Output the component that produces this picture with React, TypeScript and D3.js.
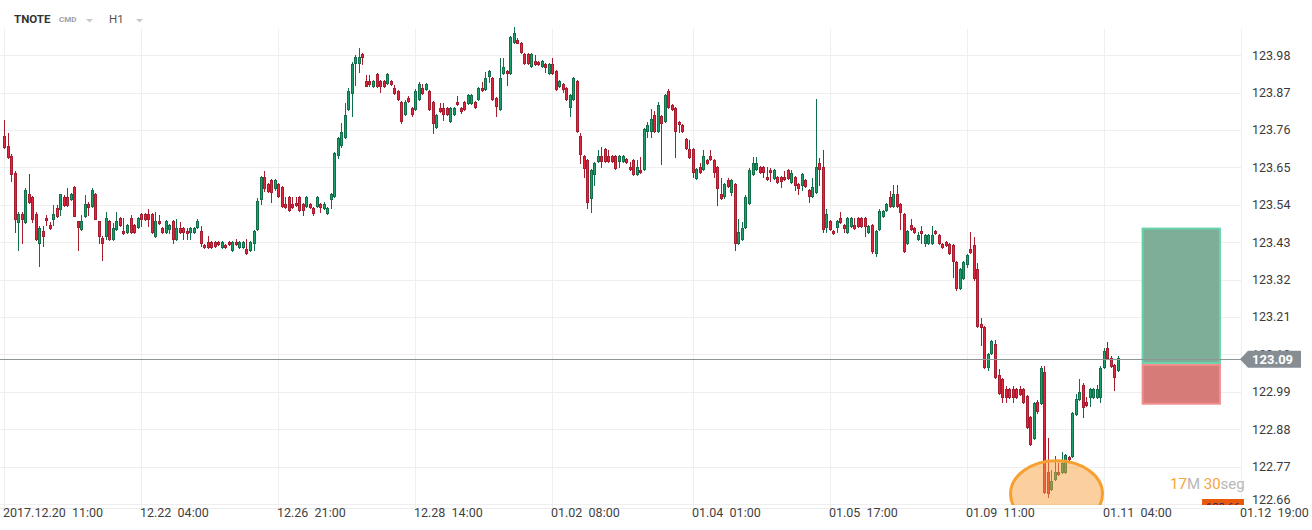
import React from "react";
import * as d3 from "d3";

// ---------- data ----------
const opens = [
123.742,123.713,123.683,123.633,123.489,123.513,123.489,123.572,123.563,123.513,
123.427,123.463,123.501,123.480,123.499,123.530,123.528,123.563,123.563,123.558,
123.592,123.492,123.469,123.507,123.542,123.536,123.572,123.492,123.442,123.448,
123.492,123.440,123.469,123.501,123.463,123.460,123.501,123.480,123.475,123.513,
123.513,123.513,123.513,123.448,123.492,123.472,123.460,123.469,123.492,123.440,
123.472,123.472,123.463,123.460,123.460,123.475,123.463,123.421,123.430,123.430,
123.430,123.430,123.415,123.421,123.430,123.407,123.430,123.415,123.415,123.410,
123.407,123.427,123.469,123.558,123.621,123.601,123.613,123.589,123.601,123.592,
123.542,123.563,123.542,123.545,123.563,123.542,123.536,123.542,123.530,123.536,
123.542,123.530,123.516,123.558,123.566,123.686,123.716,123.739,123.822,123.869,
123.957,123.957,123.983,123.904,123.904,123.889,123.925,123.904,123.904,123.898,
123.904,123.883,123.874,123.842,123.807,123.854,123.825,123.822,123.851,123.883,
123.880,123.874,123.842,123.769,123.825,123.825,123.825,123.786,123.807,123.842,
123.825,123.842,123.839,123.839,123.842,123.851,123.883,123.880,123.919,123.913,
123.854,123.822,123.927,123.933,123.927,124.019,124.025,124.016,123.983,123.983,
123.948,123.963,123.960,123.948,123.954,123.927,123.954,123.933,123.889,123.895,
123.883,123.828,123.851,123.904,123.742,123.683,123.672,123.560,123.630,123.669,
123.683,123.704,123.683,123.683,123.683,123.669,123.669,123.675,123.651,123.672,
123.630,123.642,123.645,123.757,123.757,123.804,123.757,123.801,123.786,123.874,
123.833,123.825,123.783,123.775,123.733,123.704,123.704,123.618,123.651,123.645,
123.672,123.683,123.672,123.651,123.572,123.566,123.613,123.578,123.601,123.427,
123.440,123.475,123.545,123.630,123.645,123.651,123.651,123.621,123.642,123.618,
123.621,123.621,123.621,123.642,123.607,123.621,123.601,123.598,123.613,123.584,
123.566,123.578,123.663,123.651,123.475,123.492,123.463,123.475,123.501,123.480,
123.460,123.478,123.480,123.501,123.501,123.501,123.460,123.480,123.398,123.469,
123.507,123.525,123.563,123.536,123.572,123.542,123.513,123.427,123.480,123.472,
123.440,123.463,123.427,123.427,123.427,123.463,123.451,123.424,123.430,123.424,
123.421,123.372,123.295,123.325,123.366,123.410,123.421,123.351,123.190,123.181,
123.063,123.104,123.130,123.039,123.028,122.998,122.998,122.998,122.998,122.998,
122.998,122.978,122.916,122.854,122.960,122.957,123.048,122.754,122.704,122.734,
122.754,122.754,122.754,122.798,122.801,122.925,122.969,123.010,122.960,122.975,
122.975,122.975,122.975,123.063,123.119,123.090,123.069,123.054];

const highs = [
123.789,123.751,123.689,123.639,123.519,123.519,123.589,123.630,123.566,123.519,
123.478,123.478,123.510,123.489,123.539,123.539,123.572,123.569,123.589,123.575,
123.595,123.492,123.510,123.569,123.548,123.589,123.575,123.492,123.448,123.519,
123.495,123.486,123.519,123.504,123.501,123.483,123.510,123.483,123.504,123.516,
123.516,123.528,123.516,123.519,123.510,123.475,123.495,123.483,123.495,123.499,
123.489,123.475,123.472,123.475,123.475,123.499,123.478,123.424,123.448,123.433,
123.433,123.433,123.433,123.424,123.433,123.433,123.439,123.433,123.433,123.439,
123.433,123.466,123.560,123.624,123.639,123.604,123.616,123.616,123.604,123.595,
123.563,123.566,123.563,123.563,123.566,123.545,123.566,123.545,123.533,123.566,
123.545,123.548,123.533,123.575,123.695,123.739,123.780,123.839,123.883,123.960,
123.980,124.001,123.986,123.922,123.922,123.907,123.927,123.907,123.907,123.927,
123.907,123.892,123.878,123.845,123.848,123.860,123.828,123.880,123.901,123.895,
123.898,123.878,123.845,123.807,123.839,123.839,123.828,123.828,123.828,123.860,
123.828,123.845,123.866,123.866,123.845,123.886,123.901,123.930,123.936,123.916,
123.857,123.971,123.971,123.936,124.036,124.063,124.030,124.019,123.986,123.986,
123.986,123.980,123.963,123.966,123.957,123.957,123.971,123.936,123.907,123.898,
123.886,123.866,123.916,123.907,123.751,123.686,123.675,123.645,123.666,123.701,
123.710,123.707,123.701,123.686,123.686,123.686,123.686,123.677,123.666,123.675,
123.672,123.680,123.766,123.783,123.822,123.816,123.842,123.804,123.866,123.880,
123.836,123.828,123.786,123.777,123.736,123.731,123.707,123.648,123.663,123.701,
123.675,123.701,123.675,123.654,123.618,123.604,123.618,123.616,123.604,123.499,
123.489,123.569,123.648,123.680,123.680,123.654,123.654,123.651,123.648,123.645,
123.624,123.624,123.639,123.645,123.642,123.624,123.604,123.633,123.616,123.586,
123.618,123.851,123.677,123.701,123.528,123.495,123.466,123.495,123.519,123.483,
123.504,123.504,123.501,123.504,123.504,123.504,123.480,123.483,123.466,123.528,
123.525,123.545,123.581,123.598,123.598,123.545,123.516,123.466,123.499,123.475,
123.460,123.478,123.454,123.454,123.478,123.466,123.454,123.427,123.433,123.427,
123.424,123.375,123.354,123.375,123.395,123.460,123.445,123.369,123.207,123.184,
123.104,123.142,123.142,123.057,123.031,123.007,123.001,123.007,123.001,123.007,
123.001,122.981,122.919,122.960,122.966,123.066,123.066,122.854,122.760,122.801,
122.780,122.813,122.807,122.801,122.931,122.984,123.028,123.016,122.975,123.001,
123.001,123.010,123.066,123.119,123.136,123.095,123.072,123.095];

const lows = [
123.707,123.677,123.610,123.460,123.407,123.427,123.486,123.545,123.489,123.436,
123.360,123.418,123.480,123.469,123.480,123.504,123.510,123.536,123.536,123.554,
123.507,123.407,123.466,123.504,123.510,123.533,123.499,123.427,123.378,123.440,
123.436,123.436,123.466,123.478,123.454,123.457,123.457,123.457,123.472,123.478,
123.495,123.478,123.457,123.445,123.483,123.457,123.457,123.457,123.427,123.436,
123.457,123.440,123.440,123.440,123.457,123.472,123.418,123.412,123.412,123.412,
123.415,123.421,123.412,123.412,123.421,123.404,123.421,123.412,123.412,123.395,
123.404,123.407,123.466,123.542,123.581,123.578,123.548,123.584,123.563,123.533,
123.530,123.522,123.530,123.536,123.522,123.510,123.533,123.530,123.510,123.533,
123.519,123.528,123.513,123.530,123.563,123.677,123.710,123.736,123.819,123.801,
123.892,123.930,123.954,123.889,123.889,123.886,123.886,123.872,123.886,123.895,
123.892,123.866,123.848,123.780,123.804,123.842,123.801,123.819,123.848,123.866,
123.878,123.819,123.751,123.766,123.813,123.789,123.804,123.783,123.804,123.833,
123.810,123.819,123.836,123.836,123.825,123.848,123.874,123.878,123.901,123.848,
123.801,123.819,123.925,123.892,123.925,124.016,124.016,123.986,123.954,123.954,
123.945,123.951,123.951,123.945,123.930,123.925,123.925,123.878,123.886,123.872,
123.848,123.801,123.848,123.754,123.663,123.621,123.530,123.519,123.598,123.666,
123.651,123.666,123.666,123.666,123.645,123.651,123.666,123.663,123.642,123.627,
123.627,123.633,123.642,123.739,123.739,123.754,123.754,123.660,123.783,123.825,
123.819,123.680,123.754,123.754,123.704,123.677,123.621,123.616,123.633,123.642,
123.660,123.672,123.621,123.539,123.558,123.560,123.592,123.569,123.407,123.424,
123.436,123.472,123.542,123.627,123.642,123.633,123.621,123.613,123.610,123.616,
123.604,123.592,123.613,123.616,123.604,123.584,123.572,123.584,123.592,123.548,
123.563,123.575,123.598,123.460,123.460,123.466,123.454,123.460,123.486,123.460,
123.457,123.475,123.469,123.475,123.475,123.448,123.457,123.398,123.390,123.466,
123.504,123.522,123.533,123.533,123.533,123.469,123.401,123.424,123.466,123.457,
123.436,123.427,123.418,123.424,123.424,123.454,123.424,123.412,123.418,123.395,
123.328,123.289,123.292,123.322,123.357,123.398,123.319,123.181,123.128,123.060,
123.054,123.101,123.031,122.984,122.960,122.960,122.972,122.960,122.972,122.981,
122.957,122.884,122.834,122.851,122.928,122.954,122.692,122.681,122.701,122.731,
122.745,122.751,122.751,122.789,122.798,122.922,122.966,122.916,122.948,122.948,
122.972,122.972,122.960,123.060,123.087,123.063,122.995,123.051];

const closes = [
123.710,123.680,123.630,123.499,123.513,123.499,123.584,123.548,123.499,123.440,
123.472,123.448,123.495,123.472,123.513,123.507,123.572,123.539,123.539,123.572,
123.507,123.475,123.492,123.542,123.533,123.584,123.499,123.448,123.427,123.501,
123.440,123.472,123.492,123.480,123.457,123.480,123.460,123.460,123.501,123.499,
123.499,123.499,123.460,123.492,123.486,123.460,123.492,123.480,123.440,123.472,
123.460,123.460,123.457,123.472,123.472,123.492,123.427,123.415,123.415,123.415,
123.418,123.424,123.430,123.415,123.424,123.430,123.424,123.430,123.430,123.398,
123.430,123.463,123.551,123.621,123.589,123.581,123.578,123.613,123.566,123.536,
123.533,123.525,123.533,123.539,123.525,123.525,123.563,123.533,123.516,123.563,
123.533,123.542,123.530,123.572,123.692,123.736,123.754,123.804,123.874,123.954,
123.974,123.974,123.974,123.889,123.895,123.904,123.889,123.889,123.889,123.925,
123.895,123.869,123.851,123.786,123.842,123.845,123.807,123.874,123.895,123.869,
123.895,123.822,123.780,123.804,123.816,123.807,123.807,123.825,123.825,123.836,
123.816,123.822,123.863,123.863,123.828,123.883,123.878,123.913,123.933,123.851,
123.830,123.913,123.945,123.927,124.033,124.045,124.016,123.989,123.957,123.957,
123.983,123.954,123.954,123.963,123.945,123.954,123.927,123.880,123.904,123.880,
123.851,123.863,123.913,123.757,123.689,123.648,123.548,123.642,123.663,123.683,
123.669,123.669,123.669,123.669,123.648,123.683,123.683,123.666,123.645,123.630,
123.651,123.636,123.763,123.775,123.792,123.757,123.833,123.780,123.863,123.828,
123.822,123.757,123.777,123.757,123.707,123.680,123.636,123.645,123.636,123.683,
123.663,123.675,123.636,123.589,123.560,123.601,123.595,123.613,123.427,123.460,
123.472,123.563,123.642,123.663,123.663,123.636,123.636,123.616,123.636,123.642,
123.607,123.610,123.616,123.618,123.633,123.598,123.589,123.630,123.595,123.566,
123.592,123.651,123.645,123.469,123.513,123.469,123.457,123.492,123.489,123.472,
123.501,123.501,123.472,123.478,123.478,123.478,123.478,123.404,123.463,123.522,
123.522,123.542,123.536,123.572,123.536,123.519,123.404,123.463,123.469,123.460,
123.451,123.457,123.451,123.451,123.451,123.457,123.427,123.415,123.421,123.398,
123.375,123.295,123.351,123.372,123.392,123.401,123.325,123.184,123.181,123.063,
123.101,123.139,123.034,122.987,122.975,122.975,122.975,122.975,122.975,122.984,
122.960,122.886,122.836,122.957,122.933,123.060,122.695,122.692,122.728,122.754,
122.748,122.780,122.804,122.792,122.928,122.969,122.990,122.945,122.951,122.998,
122.998,122.998,123.060,123.110,123.090,123.066,123.034,123.090];

const yTickValues = [122.66, 122.77, 122.88, 122.99, 123.10, 123.21, 123.32, 123.43, 123.54, 123.65, 123.76, 123.87, 123.98];
const xTickIndex = [0, 39, 78, 117, 156, 196, 235, 274, 313, 352];
const xTickLabels = ["2017.12.20  11:00", "12.22  04:00", "12.26  21:00", "12.28  14:00", "01.02  08:00", "01.04  01:00", "01.05  17:00", "01.09  11:00", "01.11  04:00", "01.12  19:00"];

const lastPrice = 123.086;
const takeProfit = 123.47;
const entryPrice = 123.072;
const stopLoss = 122.955;
const boxIndexRange = [324, 346];
const markIndex = 299.5;
const markPrice = 122.69;
const countdown = ["17", "M ", "30", "seg"];
const bottomTag = "122.66";

const FONT = "Roboto, 'Open Sans', Arial, sans-serif";
const RED = "#e3263d", RED_D = "#a51d2e";
const GRN = "#1e9e6b", GRN_D = "#11704a";

export default function App() {
  const W = 1312, H = 530;
  const x = d3.scaleLinear().domain([0, 352]).range([4, 1241]);
  const y = d3.scaleLinear().domain([122.66, 123.98]).range([504, 55.2]);
  const n = Math.min(opens.length, highs.length, lows.length, closes.length);
  const plotRight = x(352);

  const candles = d3.range(n).map((i) => {
    const o = opens[i], c = closes[i], h = highs[i], l = lows[i];
    const up = c >= o;
    const cx = Math.round(x(i));
    const top = Math.round(y(Math.max(o, c)));
    const bot = Math.max(Math.round(y(Math.min(o, c))), top + 1);
    const wt = Math.round(y(h));
    const wb = Math.round(y(l));
    const fill = up ? GRN : RED;
    const dark = up ? GRN_D : RED_D;
    const bh = bot - top + 1;
    return (
      <g key={i}>
        <rect x={cx} y={Math.min(wt, top)} width={1} height={Math.max(wb, bot) - Math.min(wt, top) + 1} fill={dark} />
        <rect x={cx - 1} y={top} width={3} height={bh} fill={dark} />
        {bh >= 3 && <rect x={cx} y={top + 1} width={1} height={bh - 2} fill={fill} />}
      </g>
    );
  });

  const yLast = y(lastPrice);
  const bx0 = x(boxIndexRange[0]), bx1 = x(boxIndexRange[1]);
  const yTP = y(takeProfit), yEntry = y(entryPrice), ySL = y(stopLoss);

  return (
    <div style={{ position: "absolute", left: 0, top: 0, width: W, height: H, background: "#fff" }}>
      <svg width={W} height={H} style={{ display: "block", fontFamily: FONT }}>
        <defs>
          <clipPath id="plotClip">
            <rect x={0} y={0} width={plotRight} height={505} />
          </clipPath>
          <clipPath id="bottomClip">
            <rect x={0} y={0} width={W} height={505} />
          </clipPath>
        </defs>
        <rect x={0} y={0} width={W} height={H} fill="#fff" />

        {/* grid */}
        {yTickValues.map((v) => (
          <line key={"hg" + v} x1={0} x2={plotRight} y1={Math.round(y(v)) + 0.5} y2={Math.round(y(v)) + 0.5} stroke="#efefef" strokeWidth={1} />
        ))}
        {xTickIndex.map((t) => (
          <line key={"vg" + t} x1={Math.round(x(t)) + 0.5} x2={Math.round(x(t)) + 0.5} y1={29} y2={508} stroke="#efefef" strokeWidth={1} />
        ))}
        <line x1={0} x2={plotRight} y1={508.5} y2={508.5} stroke="#ededed" strokeWidth={1} />

        {/* candles */}
        <g clipPath="url(#plotClip)" shapeRendering="crispEdges">{candles}</g>

        {/* trade boxes */}
        <rect x={bx0} y={yTP} width={bx1 - bx0} height={yEntry - yTP - 1} fill="#7fae98" stroke="#66d3aa" strokeWidth={2} />
        <rect x={bx0} y={yEntry + 1} width={bx1 - bx0} height={ySL - yEntry - 1} fill="#d77b79" stroke="#f08e8e" strokeWidth={2} />

        {/* last price line */}
        <line x1={0} x2={plotRight} y1={Math.round(yLast) + 0.5} y2={Math.round(yLast) + 0.5} stroke="#8d9595" strokeWidth={1} />

        {/* highlight ellipse */}
        <g clipPath="url(#plotClip)">
          <ellipse cx={x(markIndex)} cy={y(markPrice)} rx={46} ry={33} fill="#f7a13e" fillOpacity={0.5} stroke="#f6a031" strokeWidth={3} />
        </g>

        {/* y labels */}
        {yTickValues.map((v) => (
          <text key={"yl" + v} x={1252} y={Math.min(y(v), 500)} dy="0.35em" fontSize={12.5} fill="#3a3a3a">
            {v.toFixed(2)}
          </text>
        ))}

        {/* last price tag */}
        <path
          d={`M${plotRight - 1},${yLast} L${plotRight + 7},${yLast - 8.5} L1301,${yLast - 8.5} L1301,${yLast + 8.5} L${plotRight + 7},${yLast + 8.5} Z`}
          fill="#868e94"
        />
        <text x={1252} y={yLast} dy="0.36em" fontSize={13} fontWeight="bold" fill="#fff">
          {lastPrice.toFixed(2)}
        </text>

        {/* bottom tag (clipped) */}
        <g clipPath="url(#bottomClip)">
          <rect x={1202} y={499} width={42} height={16} fill="#e8590c" />
          <text x={1223} y={511} textAnchor="middle" fontSize={11} fill="#1a237e">{bottomTag}</text>
        </g>

        {/* countdown */}
        <text x={1170} y={489} fontSize={15} style={{ whiteSpace: "pre" }}>
          <tspan fill="#f7a43a">{countdown[0]}</tspan>
          <tspan fill="#b8b8b8">{countdown[1]}</tspan>
          <tspan fill="#f7a43a">{countdown[2]}</tspan>
          <tspan fill="#b8b8b8">{countdown[3]}</tspan>
        </text>

        {/* x labels */}
        {xTickIndex.map((t, k) => (
          <text key={"xl" + t} x={Math.round(x(t)) - 1} y={517} fontSize={12.5} fill="#3f3f3f" style={{ whiteSpace: "pre" }}>
            {xTickLabels[k]}
          </text>
        ))}

        {/* header */}
        <text x={14} y={23} fontSize={11.5} fontWeight="bold" fill="#333">TNOTE</text>
        <text x={59} y={22} fontSize={8} fontWeight="bold" fill="#9aa0a6">CMD</text>
        <path d="M86,19 L93,19 L89.5,22.5 Z" fill="#c8c8c8" />
        <text x={109} y={23} fontSize={11.5} fill="#555">H1</text>
        <path d="M136,19 L143,19 L139.5,22.5 Z" fill="#c8c8c8" />
      </svg>
    </div>
  );
}
